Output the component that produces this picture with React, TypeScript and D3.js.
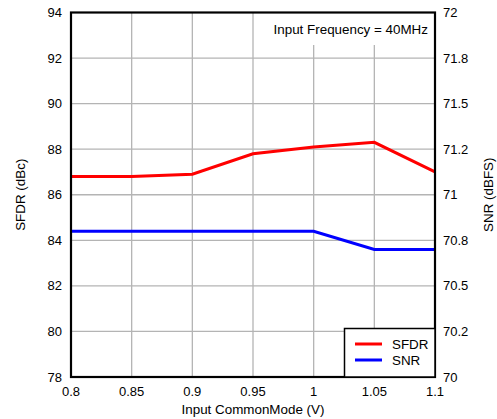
import React from "react";
import * as d3 from "d3";

const xValues = [0.8, 0.85, 0.9, 0.95, 1.0, 1.05, 1.1];
const sfdrValues = [86.8, 86.8, 86.9, 87.8, 88.1, 88.3, 87.0];
const snrValues = [70.8, 70.8, 70.8, 70.8, 70.8, 70.7, 70.7];
const xTicks = [0.8, 0.85, 0.9, 0.95, 1.0, 1.05, 1.1];
const xTickLabels = ["0.8", "0.85", "0.9", "0.95", "1", "1.05", "1.1"];
const leftTicks = [78, 80, 82, 84, 86, 88, 90, 92, 94];
const rightTicks = [70, 70.25, 70.5, 70.75, 71, 71.25, 71.5, 71.75, 72];
const rightTickLabels = ["70", "70.2", "70.5", "70.8", "71", "71.2", "71.5", "71.8", "72"];

const W = 497;
const H = 419;
const M = { left: 71, right: 62, top: 12.5, bottom: 42 };
const FONT = "'Liberation Sans', Arial, sans-serif";
const TICK_FS = 13;
const TITLE_FS = 13.4;

export default function App() {
  const x = d3.scaleLinear().domain([0.8, 1.1]).range([M.left, W - M.right]);
  const yL = d3.scaleLinear().domain([78, 94]).range([H - M.bottom, M.top]);
  const yR = d3.scaleLinear().domain([70, 72]).range([H - M.bottom, M.top]);
  const x0 = M.left, x1 = W - M.right, y0 = M.top, y1 = H - M.bottom;

  const sfdrLine = d3.line<number>().x((_, i) => x(xValues[i])).y((d) => yL(d));
  const snrLine = d3.line<number>().x((_, i) => x(xValues[i])).y((d) => yR(d));

  return (
    <svg width={W} height={H} style={{ position: "absolute", left: 0, top: 0 }} fontFamily={FONT}>
      <rect x={0} y={0} width={W} height={H} fill="white" />
      {/* grid */}
      {leftTicks.slice(1, -1).map((t) => (
        <line key={"gy" + t} x1={x0} x2={x1} y1={yL(t)} y2={yL(t)} stroke="#b4b4b4" strokeWidth={1.3} />
      ))}
      {xTicks.slice(1, -1).map((t) => (
        <line key={"gx" + t} x1={x(t)} x2={x(t)} y1={y0} y2={y1} stroke="#b4b4b4" strokeWidth={1.3} />
      ))}
      {/* annotation background */}
      <rect x={266} y={y0} width={x1 - 266} height={45 - y0} fill="white" />
      <text x={428} y={33.5} fontSize={TITLE_FS} textAnchor="end" fill="#000">Input Frequency = 40MHz</text>
      {/* data */}
      <path d={sfdrLine(sfdrValues) || ""} fill="none" stroke="#ff0000" strokeWidth={3} />
      <path d={snrLine(snrValues) || ""} fill="none" stroke="#0000ff" strokeWidth={3} />
      {/* frame */}
      <rect x={x0} y={y0} width={x1 - x0} height={y1 - y0} fill="none" stroke="#000" strokeWidth={2.2} />
      {/* legend */}
      <rect x={344.5} y={328.5} width={x1 - 344.5} height={y1 - 328.5} fill="white" stroke="#000" strokeWidth={1.5} />
      <line x1={355} x2={382} y1={344} y2={344} stroke="#ff0000" strokeWidth={3} />
      <line x1={355} x2={382} y1={360} y2={360} stroke="#0000ff" strokeWidth={3} />
      <text x={392} y={344} dy="0.35em" fontSize={TITLE_FS}>SFDR</text>
      <text x={392} y={360} dy="0.35em" fontSize={TITLE_FS}>SNR</text>
      {/* left ticks */}
      {leftTicks.map((t) => (
        <text key={"l" + t} x={62} y={yL(t)} dy="0.35em" fontSize={TICK_FS} textAnchor="end">{t}</text>
      ))}
      {rightTicks.map((t, i) => (
        <text key={"r" + t} x={443} y={yR(t)} dy="0.35em" fontSize={TICK_FS} textAnchor="start">{rightTickLabels[i]}</text>
      ))}
      {xTicks.map((t, i) => (
        <text key={"x" + t} x={x(t)} y={391} dy="0.35em" fontSize={TICK_FS} textAnchor="middle">{xTickLabels[i]}</text>
      ))}
      {/* axis titles */}
      <text x={(x0 + x1) / 2} y={409.5} dy="0.35em" fontSize={TITLE_FS} textAnchor="middle">Input CommonMode (V)</text>
      <text transform={`translate(20, ${(y0 + y1) / 2}) rotate(-90)`} dy="0.35em" fontSize={TITLE_FS} textAnchor="middle">SFDR (dBc)</text>
      <text transform={`translate(488, ${(y0 + y1) / 2}) rotate(-90)`} dy="0.35em" fontSize={TITLE_FS} textAnchor="middle">SNR (dBFS)</text>
    </svg>
  );
}
